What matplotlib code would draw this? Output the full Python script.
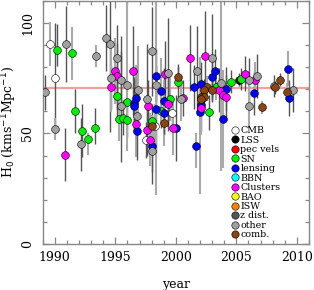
import matplotlib
matplotlib.use("Agg")
import matplotlib.pyplot as plt
from matplotlib.lines import Line2D
from matplotlib.ticker import MultipleLocator

# ---- data: per method (year, H0, error low, error high) ----
cmb_year = [1989.58, 1990.0, 1999.72, 1998.26, 1997.57]
cmb_h0 = [90.5, 74.9, 59.2, 53.2, 47.1]
cmb_elo = [10, 23, 8, 10, 8]
cmb_ehi = [10, 25, 8, 10, 8]

lss_year = [2005.2]
lss_h0 = [74.3]
lss_elo = [3]
lss_ehi = [3]

sn_year = [1990.18, 1991.44, 1991.69, 1992.27, 1992.76, 1993.34, 1995.15, 1995.32,
           1995.6, 1996.0, 1996.0, 1997.99, 1998.81, 1999.55, 2000.2, 2002.74,
           2003.35, 2004.58, 2005.4]
sn_h0 = [87.6, 86.2, 60.3, 51.2, 47.3, 52.3, 67.0, 56.5,
         57.2, 56.2, 64.0, 55.4, 60.3, 65.6, 73.5, 59.5,
         71.0, 73.5, 74.8]
sn_elo = [7, 12, 10, 12, 7, 7, 10, 10, 8, 8, 8, 8, 8, 10, 8, 8, 6, 5, 5]
sn_ehi = [12, 12, 10, 12, 3, 9, 10, 10, 8, 8, 8, 8, 8, 10, 8, 8, 6, 5, 5]

lens_year = [1996.69, 1996.53, 1996.55, 1996.75, 1997.99, 1998.34, 1998.81, 1998.4,
             1999.0, 1999.0, 2000.0, 2001.5, 2001.7, 2002.1, 2002.05, 2002.02,
             2003.0, 2003.26, 2003.9, 2004.17, 2006.45, 2009.3, 2009.39]
lens_h0 = [66.0, 63.7, 62.2, 51.3, 44.4, 76.1, 69.3, 61.0,
           64.5, 59.2, 52.4, 71.0, 44.4, 72.4, 63.0, 59.5,
           75.4, 78.4, 56.5, 70.2, 68.3, 79.3, 66.0]
lens_elo = [15, 12, 12, 12, 12, 12, 15, 20, 15, 15, 15, 10, 10, 10, 12, 37,
            10, 10, 22, 10, 10, 8, 8]
lens_ehi = [15, 12, 12, 12, 12, 12, 15, 20, 15, 15, 15, 10, 6, 10, 12, 25,
            10, 10, 22, 10, 10, 8, 8]

clu_year = [1990.86, 1994.65, 1995.0, 1995.15, 1996.42, 1996.69, 1997.62, 1997.7,
            1997.85, 1999.08, 1999.35, 1999.77, 2000.6, 2001.14, 2002.05, 2002.44,
            2003.6, 2003.9, 2004.17, 2005.68, 2006.58]
clu_h0 = [40.3, 71.0, 78.4, 75.8, 78.4, 54.2, 51.7, 62.2,
          47.1, 77.0, 63.3, 52.4, 66.0, 84.1, 61.5, 85.2,
          69.5, 67.5, 66.3, 77.0, 74.3]
clu_elo = [12, 10, 15, 15, 20, 15, 12, 12, 12, 15, 12, 12, 8, 15, 12, 20,
           10, 10, 10, 8, 8]
clu_ehi = [12, 10, 15, 15, 20, 15, 12, 12, 12, 15, 12, 12, 8, 15, 12, 20,
           10, 10, 10, 8, 8]

oth_year = [1989.16, 1990.0, 1990.9, 1992.18, 1993.42, 1994.24, 1994.57, 1994.65,
            1995.15, 1995.43, 1995.98, 1995.51, 1996.83, 1996.88, 1997.62, 1998.07,
            1998.4, 1998.07, 1999.35, 2000.46, 2001.78, 2003.02, 2003.76, 2006.03,
            2006.7, 2006.03, 2008.1, 2009.66]
oth_h0 = [68.6, 52.0, 90.5, 45.2, 85.2, 93.2, 90.5, 74.9,
          84.1, 74.3, 72.0, 62.2, 58.0, 69.5, 65.6, 87.1,
          72.0, 42.1, 77.3, 65.7, 78.4, 84.1, 72.8, 74.3,
          76.1, 62.5, 71.3, 69.5]
oth_elo = [8, 5, 17, 12, 5, 15, 40, 15, 15, 20, 30, 25, 20, 20, 25, 20,
           50, 15, 25, 10, 20, 20, 40, 10, 10, 10, 5, 10]
oth_ehi = [8, 5, 17, 12, 5, 15, 20, 15, 15, 20, 38, 25, 20, 20, 25, 20,
           38, 15, 25, 10, 20, 20, 38, 10, 10, 10, 5, 10]

comb_year = [1998.0, 1999.0, 2000.2, 2002.57, 2003.0, 2002.3, 2002.1, 2002.3,
             2002.05, 2007.1, 2008.2, 2008.6, 2009.2]
comb_h0 = [53.2, 54.7, 75.4, 70.8, 69.8, 69.8, 66.7, 66.5,
           65.6, 61.9, 70.8, 74.3, 68.6]
comb_elo = [5, 5, 5, 5, 5, 5, 5, 5, 5, 3, 3, 3, 4]
comb_ehi = [5, 5, 5, 5, 5, 5, 5, 5, 5, 3, 3, 3, 4]

legend_labels = ["CMB", "LSS", "pec vels", "SN", "lensing", "BBN", "Clusters",
                 "BAO", "ISW", "z dist.", "other", "comb."]
legend_colors = ["white", "black", "red", "#00ee00", "blue", "cyan", "magenta",
                 "yellow", "#ff7f00", "#555555", "#a0a0a0", "#8b4513"]

h0_ref = 70.4

series = [
    (cmb_year, cmb_h0, cmb_elo, cmb_ehi, "white"),
    (lss_year, lss_h0, lss_elo, lss_ehi, "black"),
    (sn_year, sn_h0, sn_elo, sn_ehi, "#00ee00"),
    (lens_year, lens_h0, lens_elo, lens_ehi, "blue"),
    (clu_year, clu_h0, clu_elo, clu_ehi, "magenta"),
    (oth_year, oth_h0, oth_elo, oth_ehi, "#a0a0a0"),
    (comb_year, comb_h0, comb_elo, comb_ehi, "#8b4513"),
]

plt.rcParams['font.family'] = ['DejaVu Serif']
fig = plt.figure(figsize=(3.14, 2.90), dpi=100)
ax = fig.add_axes([0.136, 0.159, 0.848, 0.838])

ax.axhline(h0_ref, color="#f5a0a0", lw=1.6, zorder=1)

# error bars first
for i, (yr, h, lo, hi, c) in enumerate(series):
    for j, (x, y, l, u) in enumerate(zip(yr, h, lo, hi)):
        col = "#555555" if (i + j) % 3 else "#aaaaaa"
        lw = 1.0 if (i + j) % 3 else 1.5
        ax.plot([x, x], [y - l, y + u], color=col, lw=lw, zorder=2,
                solid_capstyle="butt")

for yr, h, lo, hi, c in series:
    ax.plot(yr, h, "o", ms=5.6, mfc=c, mec="black", mew=0.4, ls="none", zorder=3)

ax.set_xlim(1989, 2011)
ax.set_ylim(0, 110)
ax.xaxis.set_major_locator(MultipleLocator(5))
ax.xaxis.set_minor_locator(MultipleLocator(1))
ax.yaxis.set_major_locator(MultipleLocator(50))
ax.yaxis.set_minor_locator(MultipleLocator(10))
ax.tick_params(which="both", direction="in", top=True, right=True,
               color="#888888", labelsize=9)
ax.tick_params(which="major", length=5, width=0.9)
ax.tick_params(which="minor", length=3, width=0.9)
ax.tick_params(axis="x", pad=5)
ax.tick_params(axis="y", pad=6)
for lab in ax.get_yticklabels():
    lab.set_rotation(90)
    lab.set_va("center")
for sp in ax.spines.values():
    sp.set_color("#888888")
    sp.set_linewidth(1.0)

ax.set_xlabel("year", fontsize=9, labelpad=10)
ax.set_ylabel(r"H$_0$ (kms$^{-1}$Mpc$^{-1}$)", fontsize=9)
ax.yaxis.set_label_coords(-0.09, 0.5)

handles = [Line2D([], [], marker="o", ls="none", ms=5.3, mfc=c, mec="black", mew=0.4)
           for c in legend_colors]
leg = ax.legend(handles, legend_labels, loc="lower left", bbox_to_anchor=(0.685, -0.005),
                frameon=False, fontsize=6.8, labelspacing=0.05, handletextpad=0.0,
                handlelength=1.0, borderpad=0.1)

fig.savefig("out.png", dpi=100)
